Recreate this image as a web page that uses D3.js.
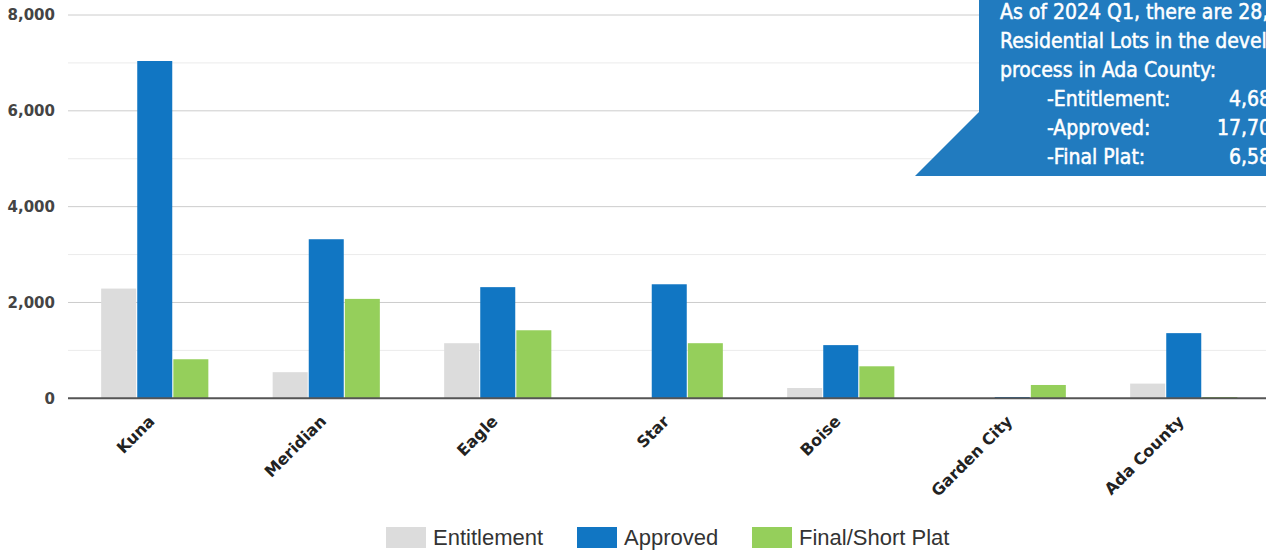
<!DOCTYPE html>
<html>
<head>
<meta charset="utf-8">
<script src="https://cdn.jsdelivr.net/npm/d3@7"></script>
<style>
  body { margin: 0; background: #fff; }
  svg { display: block; }
</style>
</head>
<body>
<div id="chart"></div>
<script>
// data
var cities = ["Kuna", "Meridian", "Eagle", "Star", "Boise", "Garden City", "Ada County"];
var seriesNames = ["Entitlement", "Approved", "Final/Short Plat"];
var entitlement = [2290, 545, 1150, 0, 215, 0, 307];
var approved = [7040, 3320, 2320, 2380, 1110, 27, 1360];
var finalPlat = [815, 2075, 1420, 1150, 668, 278, 27];
var yTicks = [0, 2000, 4000, 6000, 8000];
var yMinor = [1000, 3000, 5000, 7000];
var calloutLines = [
  "As of 2024 Q1, there are 28,970",
  "Residential Lots in the development",
  "process in Ada County:"
];
var calloutItems = ["-Entitlement:", "-Approved:", "-Final Plat:"];
var calloutValues = ["4,684", "17,704", "6,584"];

var colors = ["#dcdcdc", "#1176c3", "#95cf5b"];

var svgWidth = 1266;
var svgHeight = 552;

var svg = d3.select("#chart")
  .append("svg")
  .attr("width", svgWidth)
  .attr("height", svgHeight);

var data = cities.map(function(c, i) {
  return { city: c, values: [entitlement[i], approved[i], finalPlat[i]] };
});

var x0 = d3.scaleBand()
  .domain(cities)
  .range([69, 1269.5])
  .paddingInner(0.375)
  .paddingOuter(0.1875);

var x1 = d3.scaleBand()
  .domain(d3.range(seriesNames.length))
  .range([0, x0.bandwidth()])
  .paddingInner(0.03);

var y = d3.scaleLinear()
  .domain([0, 8000])
  .range([398.3, 15]);

// gridlines
svg.append("g").selectAll("line")
  .data(yMinor)
  .enter()
  .append("line")
  .attr("x1", 68).attr("x2", svgWidth)
  .attr("y1", d => y(d)).attr("y2", d => y(d))
  .attr("stroke", "#ebebeb")
  .attr("stroke-width", 1);

svg.append("g").selectAll("line")
  .data(yTicks.filter(d => d > 0))
  .enter()
  .append("line")
  .attr("x1", 68).attr("x2", svgWidth)
  .attr("y1", d => y(d)).attr("y2", d => y(d))
  .attr("stroke", "#cccccc")
  .attr("stroke-width", 1);

// y axis labels
var leftAxis = d3.axisLeft(y)
  .tickValues(yTicks)
  .tickFormat(d3.format(","))
  .tickSize(0)
  .tickPadding(0);

var yAxisG = svg.append("g")
  .attr("transform", "translate(55,0)")
  .call(leftAxis);
yAxisG.select(".domain").remove();
yAxisG.selectAll("text")
  .attr("font-family", "DejaVu Sans, Verdana, sans-serif")
  .attr("font-weight", "bold")
  .attr("font-size", 15)
  .attr("fill", "#444");

// bars
var groups = svg.append("g").selectAll("g")
  .data(data)
  .enter()
  .append("g")
  .attr("transform", d => `translate(${x0(d.city)},0)`);

groups.selectAll("rect")
  .data(d => d.values.map(function(v, i) { return { i: i, v: v }; }))
  .enter()
  .append("rect")
  .attr("x", d => x1(d.i))
  .attr("width", x1.bandwidth())
  .attr("y", d => y(d.v))
  .attr("height", d => y(0) - y(d.v))
  .attr("fill", d => colors[d.i]);

// baseline
svg.append("line")
  .attr("x1", 68).attr("x2", svgWidth)
  .attr("y1", y(0)).attr("y2", y(0))
  .attr("stroke", "#555")
  .attr("stroke-width", 2);

// x labels, rotated
var bottomAxis = d3.axisBottom(x0).tickSize(0).tickPadding(0);
var xAxisG = svg.append("g")
  .attr("transform", `translate(0,${y(0)})`)
  .call(bottomAxis);
xAxisG.select(".domain").remove();
xAxisG.selectAll("text")
  .attr("font-family", "DejaVu Sans, Verdana, sans-serif")
  .attr("font-weight", "bold")
  .attr("font-size", 16)
  .attr("fill", "#222")
  .attr("text-anchor", "end")
  .attr("dy", null)
  .attr("y", null)
  .attr("transform", "translate(1,24) rotate(-45)");

// legend
var legend = svg.append("g").selectAll("g")
  .data(seriesNames)
  .enter()
  .append("g")
  .attr("transform", (d, i) => `translate(${[386, 577, 752][i]},527)`);

legend.append("rect")
  .attr("width", 40)
  .attr("height", 21)
  .attr("fill", (d, i) => colors[i]);

legend.append("text")
  .attr("x", 47)
  .attr("y", 18)
  .attr("font-family", "Liberation Sans, Arial, sans-serif")
  .attr("font-size", 22)
  .attr("fill", "#333")
  .text(d => d);

// callout box
var callout = svg.append("g");
callout.append("path")
  .attr("d", "M979,0 L1266,0 L1266,176 L915,176 L979,112 Z")
  .attr("fill", "#217bbf");

var calloutFont = "Liberation Sans Narrow, DejaVu Sans Condensed, sans-serif";
function calloutText(sel) {
  sel.attr("font-family", calloutFont)
    .attr("font-size", 21)
    .attr("fill", "#fff")
    .attr("stroke", "#fff")
    .attr("stroke-width", 0.5);
}

callout.selectAll("text.line")
  .data(calloutLines)
  .enter()
  .append("text")
  .attr("class", "line")
  .attr("x", 1000)
  .attr("y", (d, i) => 18.5 + i * 29)
  .text(d => d)
  .call(calloutText);

callout.selectAll("text.item")
  .data(calloutItems)
  .enter()
  .append("text")
  .attr("class", "item")
  .attr("x", 1047)
  .attr("y", (d, i) => 106 + i * 29)
  .text(d => d)
  .call(calloutText);

callout.selectAll("text.val")
  .data(calloutValues)
  .enter()
  .append("text")
  .attr("class", "val")
  .attr("x", 1283)
  .attr("y", (d, i) => 106 + i * 29)
  .attr("text-anchor", "end")
  .text(d => d)
  .call(calloutText);
</script>
</body>
</html>
